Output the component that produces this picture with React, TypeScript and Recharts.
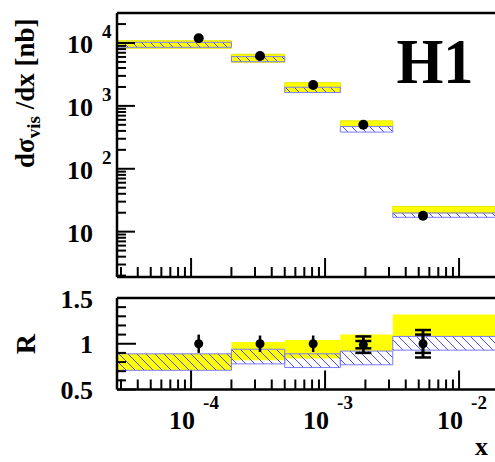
import React from 'react';
import { ComposedChart, XAxis, YAxis, Scatter, ErrorBar, ReferenceArea } from 'recharts';

// bin edges in x and the measured points
const binLow = [2.8e-5, 2e-4, 5e-4, 1.3e-3, 3.2e-3];
const binHigh = [2e-4, 5e-4, 1.3e-3, 3.2e-3, 0.03];
const dataX = [1.14e-4, 3.27e-4, 8.15e-4, 1.93e-3, 5.38e-3];
const dataXsec = [11900, 6200, 2150, 500, 17.9];

// predictions in the upper panel (nb)
const yellowLow = [8240, 4940, 1630, 469, 19.8];
const yellowHigh = [10880, 6620, 2340, 578, 25.2];
const hatchLow = [8550, 5040, 1630, 383, 16.9];
const hatchHigh = [10260, 6070, 1980, 469, 19.8];

// ratio panel
const ratioVal = [1.0, 1.0, 1.0, 0.99, 1.0];
const ratioErr = [0.1, 0.09, 0.09, 0.09, 0.15];
const ratioErrCapped = [null, null, null, 0.09, 0.15];
const ratioErrInner = [null, null, null, 0.04, 0.1];
const ratioYellowLow = [0.71, 0.82, 0.84, 0.92, 1.08];
const ratioYellowHigh = [0.89, 1.02, 1.04, 1.1, 1.32];
const ratioHatchLow = [0.71, 0.78, 0.74, 0.77, 0.93];
const ratioHatchHigh = [0.89, 0.94, 0.89, 0.92, 1.08];

// axes
const xDomain = [2.8e-5, 0.03];
const xTicks = [
  3e-5, 4e-5, 5e-5, 6e-5, 7e-5, 8e-5, 9e-5, 1e-4,
  2e-4, 3e-4, 4e-4, 5e-4, 6e-4, 7e-4, 8e-4, 9e-4, 1e-3,
  2e-3, 3e-3, 4e-3, 5e-3, 6e-3, 7e-3, 8e-3, 9e-3, 1e-2, 2e-2,
];
const yDomain = [1.9, 30000];
const yTicks = [
  2, 3, 4, 5, 6, 7, 8, 9, 10,
  20, 30, 40, 50, 60, 70, 80, 90, 100,
  200, 300, 400, 500, 600, 700, 800, 900, 1000,
  2000, 3000, 4000, 5000, 6000, 7000, 8000, 9000, 10000, 20000,
];
const ratioTicks = [0.5, 0.6, 0.7, 0.8, 0.9, 1.0, 1.1, 1.2, 1.3, 1.4, 1.5];
const ratioLabelValues = [0.5, 1.0, 1.5];
const ratioLabels = ['0.5', '1', '1.5'];

const FONT = '"Liberation Serif", "Times New Roman", serif';
const frame = { stroke: '#000', strokeWidth: 2.5 };

const isDecade = (v: number) => {
  const e = Math.log10(v);
  return Math.abs(e - Math.round(e)) < 1e-6;
};

const XTick = (props: any) => {
  const { x, y, payload, labels } = props;
  const v = payload.value;
  const major = isDecade(v);
  const exp = Math.round(Math.log10(v));
  return (
    <g>
      <line x1={x} x2={x} y1={y} y2={y - (major ? 19 : 10)} stroke="#000" strokeWidth={2} />
      {labels && major && (
        <>
          <text x={x + 4} y={y + 39} textAnchor="end" fontFamily={FONT} fontWeight="bold" fontSize={26} fill="#000">10</text>
          <text x={x + 12} y={y + 19} fontFamily={FONT} fontWeight="bold" fontSize={19} fill="#000">{`${exp}`}</text>
        </>
      )}
    </g>
  );
};

const LogYTick = (props: any) => {
  const { x, y, payload } = props;
  const v = payload.value;
  const major = isDecade(v);
  const exp = Math.round(Math.log10(v));
  return (
    <g>
      <line x1={x} x2={x + (major ? 18 : 9)} y1={y} y2={y} stroke="#000" strokeWidth={2} />
      {major && (
        <>
          <text x={x - 50} y={y + 10} fontFamily={FONT} fontWeight="bold" fontSize={26} fill="#000">10</text>
          {exp > 1 && (
            <text x={x - 15} y={y - 5} fontFamily={FONT} fontWeight="bold" fontSize={19} fill="#000">{`${exp}`}</text>
          )}
        </>
      )}
    </g>
  );
};

const RatioTick = (props: any) => {
  const { x, y, payload } = props;
  const v = payload.value;
  const idx = ratioLabelValues.findIndex(r => Math.abs(r - v) < 1e-9);
  const major = idx >= 0;
  return (
    <g>
      <line x1={x} x2={x + (major ? 19 : 9)} y1={y} y2={y} stroke="#000" strokeWidth={2} />
      {major && (
        <text x={x - 24} y={y + 9.5} textAnchor="end" fontFamily={FONT} fontWeight="bold" fontSize={26} fill="#000">
          {ratioLabels[idx]}
        </text>
      )}
    </g>
  );
};

const Dot = (p: any) => <circle cx={p.cx} cy={p.cy} r={5} fill="#000" />;
const SmallDot = (p: any) => <circle cx={p.cx} cy={p.cy} r={4.5} fill="#000" />;

export default function App() {
  const topPoints = dataX.map((x, i) => ({ x, y: dataXsec[i] }));
  const ratioPoints = dataX.map((x, i) => ({
    x,
    y: ratioVal[i],
    err: ratioErr[i],
    errCap: ratioErrCapped[i],
    errIn: ratioErrInner[i],
  }));

  return (
    <div style={{ position: 'absolute', left: 0, top: 0, width: 495, height: 462, overflow: 'hidden', background: '#fff' }}>
      <div style={{ position: 'absolute', left: 0, top: 0 }}>
        <ComposedChart width={560} height={300} margin={{ top: 12, right: 37, bottom: 22, left: 116 }}>
          <XAxis
            dataKey="x" type="number" scale="log" domain={xDomain} allowDataOverflow
            ticks={xTicks} interval={0} height={1} tickSize={0} tickMargin={0}
            axisLine={frame} tickLine={false}
            tick={(p: any) => <XTick {...p} labels={false} />}
          />
          <XAxis xAxisId="top" orientation="top" type="number" scale="log" domain={xDomain} allowDataOverflow height={1} axisLine={frame} tick={false} tickLine={false} />
          <YAxis
            dataKey="y" type="number" scale="log" domain={yDomain} allowDataOverflow
            ticks={yTicks} interval={0} width={1} tickSize={0} tickMargin={0}
            axisLine={frame} tickLine={false}
            tick={(p: any) => <LogYTick {...p} />}
          />
          {binLow.map((lo, i) => (
            <ReferenceArea key={`y${i}`} x1={lo} x2={binHigh[i]} y1={yellowLow[i]} y2={yellowHigh[i]}
              fill="#ffff00" fillOpacity={1} stroke="#e6e600" strokeWidth={1} ifOverflow="visible" />
          ))}
          {binLow.map((lo, i) => (
            <ReferenceArea key={`h${i}`} x1={lo} x2={binHigh[i]} y1={hatchLow[i]} y2={hatchHigh[i]}
              fill="url(#hatch)" fillOpacity={1} stroke="#7a7aff" strokeWidth={1} ifOverflow="visible" />
          ))}
          <Scatter data={topPoints} dataKey="y" isAnimationActive={false} shape={Dot} />
        </ComposedChart>
      </div>

      <div style={{ position: 'absolute', left: 0, top: 280 }}>
        <ComposedChart width={560} height={182} margin={{ top: 17, right: 37, bottom: 71.5, left: 116 }}>
          <XAxis
            dataKey="x" type="number" scale="log" domain={xDomain} allowDataOverflow
            ticks={xTicks} interval={0} height={1} tickSize={0} tickMargin={0}
            axisLine={frame} tickLine={false}
            tick={(p: any) => <XTick {...p} labels={true} />}
          />
          <XAxis xAxisId="top" orientation="top" type="number" scale="log" domain={xDomain} allowDataOverflow height={1} axisLine={frame} tick={false} tickLine={false} />
          <YAxis
            dataKey="y" type="number" domain={[0.5, 1.5]} allowDataOverflow
            ticks={ratioTicks} interval={0} width={1} tickSize={0} tickMargin={0}
            axisLine={frame} tickLine={false}
            tick={(p: any) => <RatioTick {...p} />}
          />
          {binLow.map((lo, i) => (
            <ReferenceArea key={`ry${i}`} x1={lo} x2={binHigh[i]} y1={ratioYellowLow[i]} y2={ratioYellowHigh[i]}
              fill="#ffff00" fillOpacity={1} stroke="none" ifOverflow="visible" />
          ))}
          {binLow.map((lo, i) => (
            <ReferenceArea key={`rh${i}`} x1={lo} x2={binHigh[i]} y1={ratioHatchLow[i]} y2={ratioHatchHigh[i]}
              fill="url(#hatch)" fillOpacity={1} stroke="#7a7aff" strokeWidth={1} ifOverflow="visible" />
          ))}
          <Scatter data={ratioPoints} dataKey="y" isAnimationActive={false} shape={SmallDot}>
            <ErrorBar dataKey="err" direction="y" width={0} stroke="#000" strokeWidth={2.5} />
            <ErrorBar dataKey="errCap" direction="y" width={8} stroke="#000" strokeWidth={2.5} />
            <ErrorBar dataKey="errIn" direction="y" width={8} stroke="#000" strokeWidth={2.5} />
          </Scatter>
        </ComposedChart>
      </div>

      <svg width={495} height={462} style={{ position: 'absolute', left: 0, top: 0, pointerEvents: 'none' }}>
        <defs>
          <pattern id="hatch" patternUnits="userSpaceOnUse" width="9" height="9">
            <path d="M0,0 L9,9 M-2,7 L2,11 M7,-2 L11,2" stroke="#4d4dff" strokeWidth={1} />
          </pattern>
        </defs>
        <text x={34} y={168} transform="rotate(-90 34 168)" fontFamily={FONT} fontWeight="bold" fontSize={27} fill="#000">
          dσ<tspan fontSize={19} dy={6}>vis</tspan><tspan dy={-6}> /dx [nb]</tspan>
        </text>
        <text x={35} y={344} transform="rotate(-90 35 344)" textAnchor="middle" fontFamily={FONT} fontWeight="bold" fontSize={28} fill="#000">R</text>
        <text x={435} y={83} textAnchor="middle" textLength={77} lengthAdjust="spacingAndGlyphs" fontFamily={FONT} fontWeight="bold" fontSize={64} fill="#000">H1</text>
        <text x={475} y={455} fontFamily={FONT} fontWeight="bold" fontSize={26} fill="#000">x</text>
      </svg>
    </div>
  );
}
